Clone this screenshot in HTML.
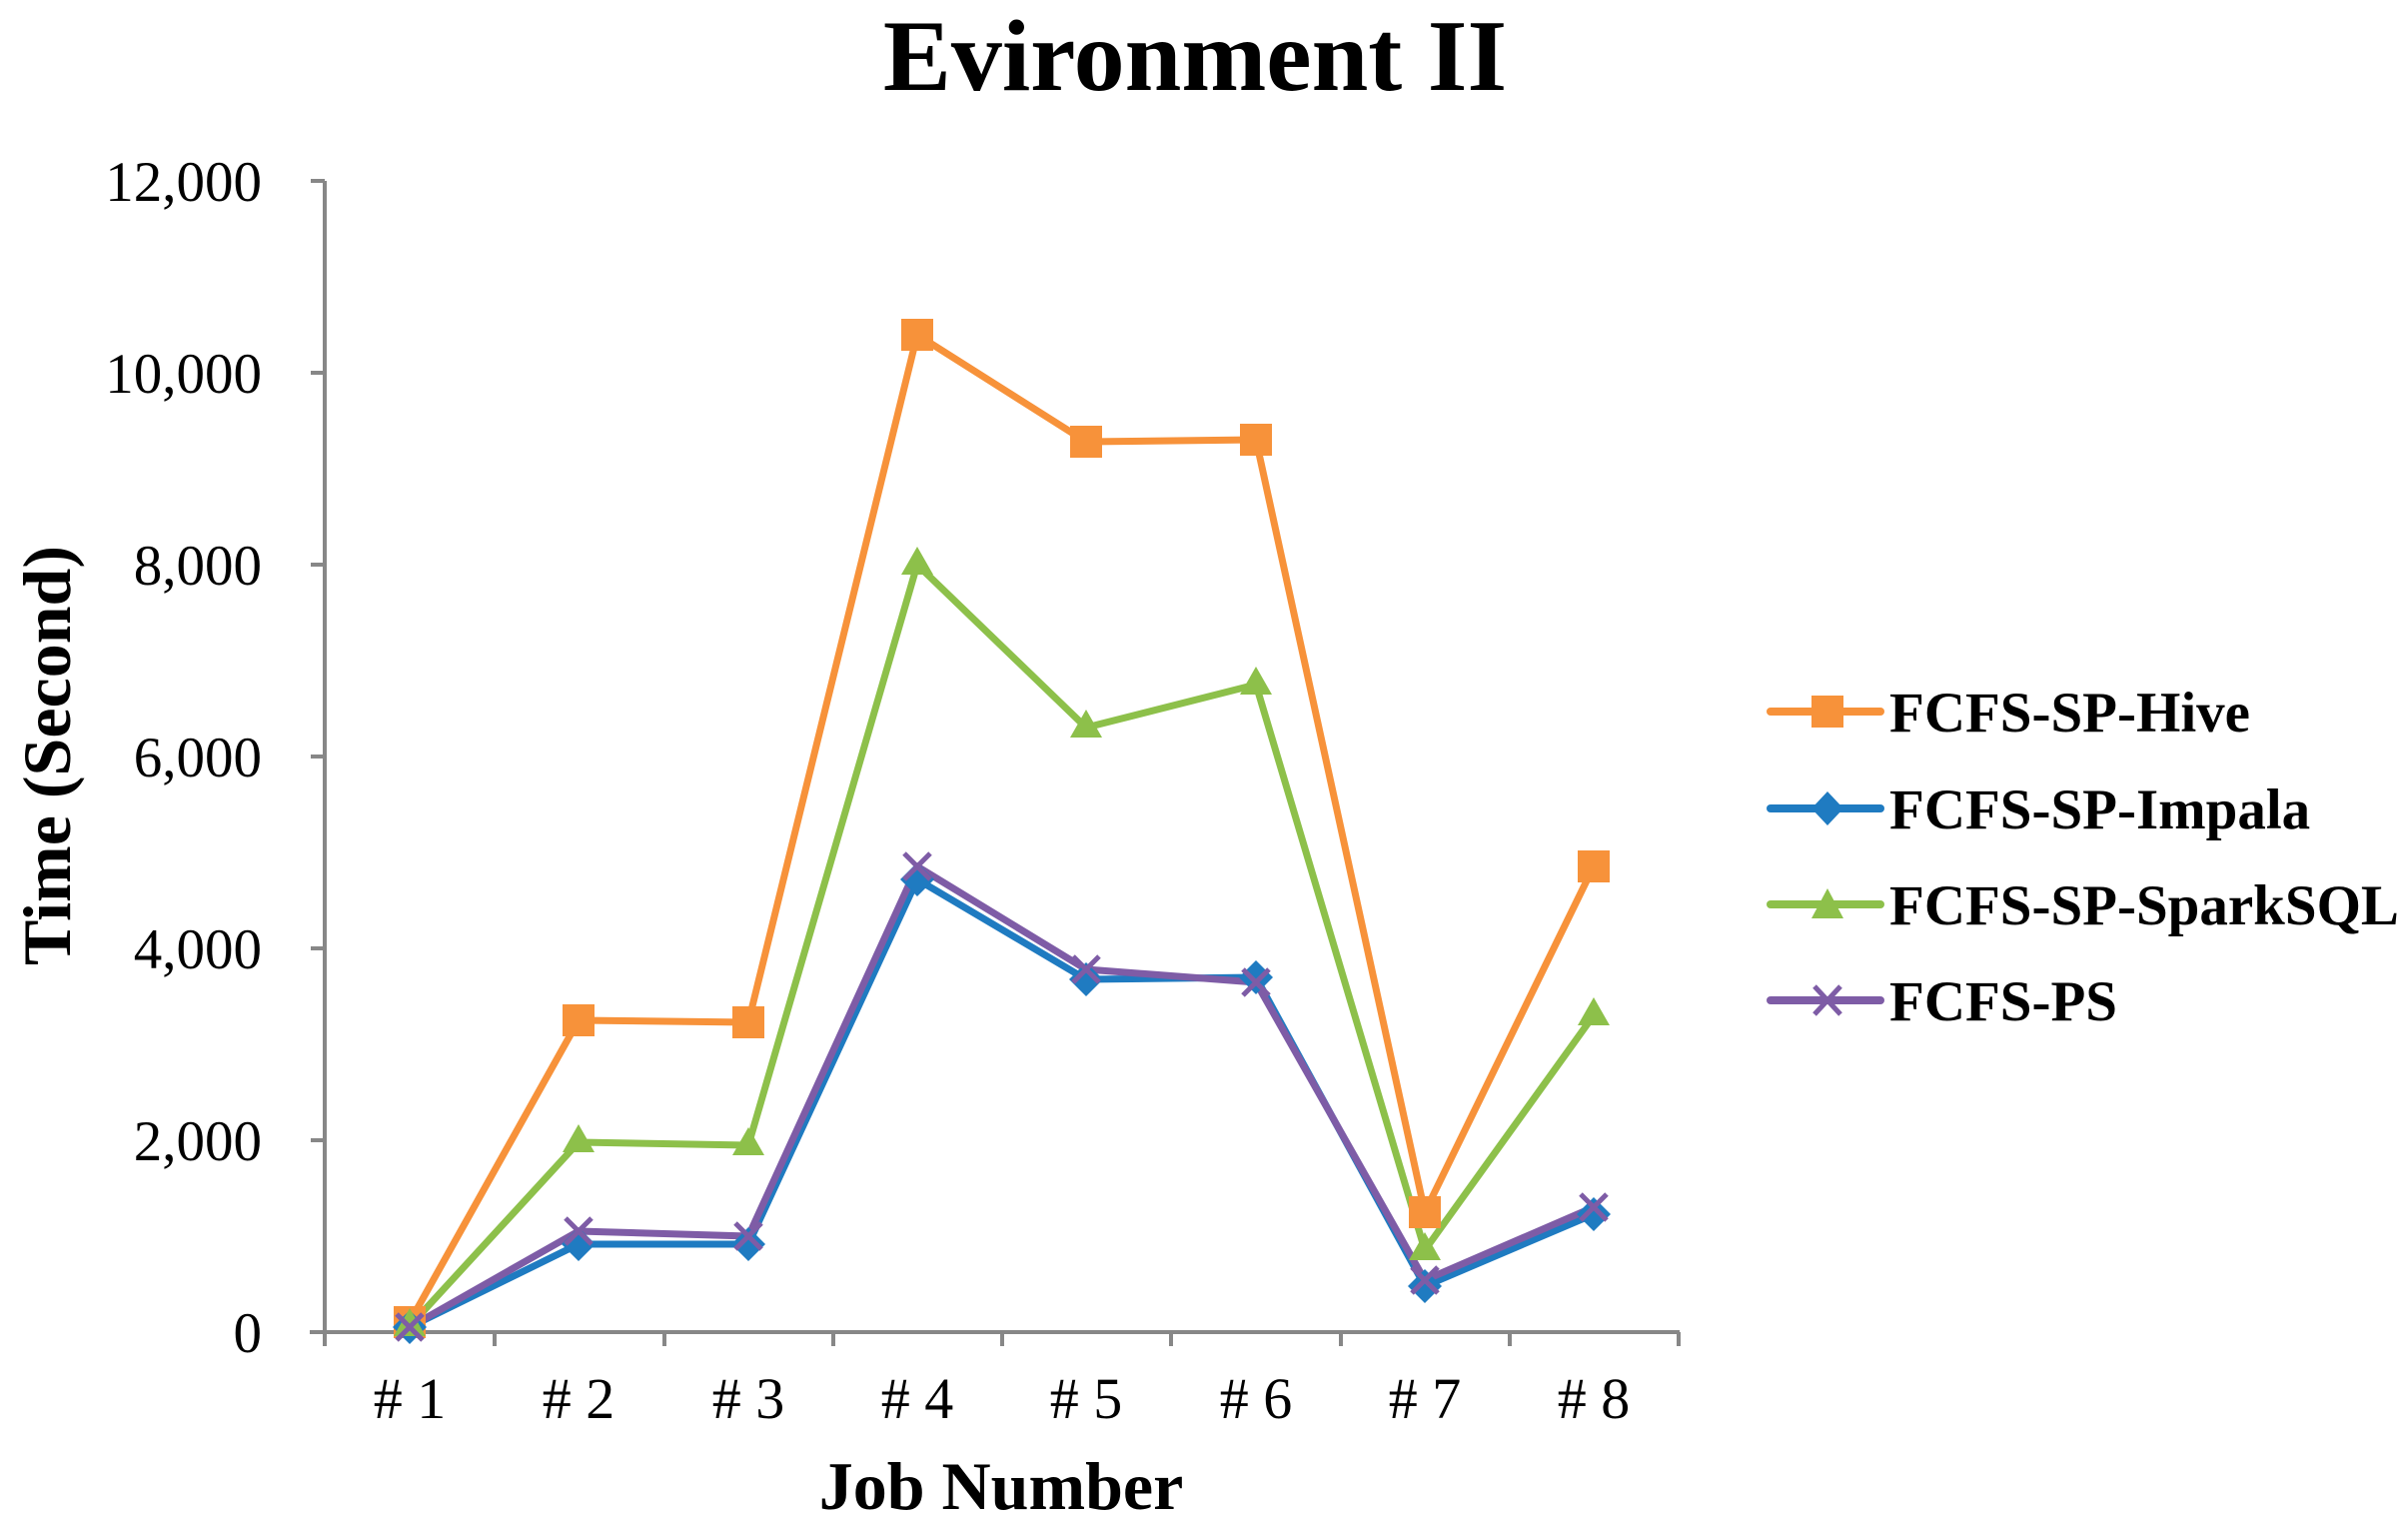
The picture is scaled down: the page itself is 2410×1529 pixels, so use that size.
<!DOCTYPE html>
<html><head><meta charset="utf-8"><style>
html,body{margin:0;padding:0;background:#fff;}
svg{display:block;font-family:"Liberation Serif",serif;}
</style></head><body>
<svg width="2410" height="1529" viewBox="0 0 2410 1529" xmlns="http://www.w3.org/2000/svg">
<text x="1196" y="90" font-size="102" font-weight="bold" text-anchor="middle">Evironment II</text>
<g stroke="#878787" stroke-width="4" fill="none">
<line x1="325" y1="181" x2="325" y2="1347"/>
<line x1="310" y1="1333" x2="1681" y2="1333"/>
<line x1="311" y1="181" x2="325" y2="181"/>
<line x1="311" y1="373" x2="325" y2="373"/>
<line x1="311" y1="565" x2="325" y2="565"/>
<line x1="311" y1="757" x2="325" y2="757"/>
<line x1="311" y1="949" x2="325" y2="949"/>
<line x1="311" y1="1141" x2="325" y2="1141"/>
<line x1="495" y1="1333" x2="495" y2="1347"/>
<line x1="665" y1="1333" x2="665" y2="1347"/>
<line x1="834" y1="1333" x2="834" y2="1347"/>
<line x1="1003" y1="1333" x2="1003" y2="1347"/>
<line x1="1172" y1="1333" x2="1172" y2="1347"/>
<line x1="1342" y1="1333" x2="1342" y2="1347"/>
<line x1="1511" y1="1333" x2="1511" y2="1347"/>
<line x1="1680" y1="1333" x2="1680" y2="1347"/>
</g>
<g font-size="57" text-anchor="end">
<text x="262" y="201">12,000</text>
<text x="262" y="393">10,000</text>
<text x="262" y="585">8,000</text>
<text x="262" y="777">6,000</text>
<text x="262" y="969">4,000</text>
<text x="262" y="1161">2,000</text>
<text x="262" y="1353">0</text>
</g>
<g font-size="58" text-anchor="middle">
<text x="410" y="1419"># 1</text>
<text x="579" y="1419"># 2</text>
<text x="749" y="1419"># 3</text>
<text x="918" y="1419"># 4</text>
<text x="1087" y="1419"># 5</text>
<text x="1257" y="1419"># 6</text>
<text x="1426" y="1419"># 7</text>
<text x="1595" y="1419"># 8</text>
</g>
<text x="1002" y="1510" font-size="68" font-weight="bold" text-anchor="middle">Job Number</text>
<text transform="translate(70,756) rotate(-90)" font-size="68" font-weight="bold" text-anchor="middle">Time (Second)</text>
<g fill="none" stroke-width="7" stroke-linejoin="round">
<polyline stroke="#F7923A" points="410,1323 579,1021 749,1023 918,335 1087,442 1257,440 1426,1213 1595,867"/>
<polyline stroke="#1F7BC1" points="410,1328 579,1245 749,1245 918,880 1087,980 1257,978 1426,1287 1595,1215"/>
<polyline stroke="#8DC04A" points="410,1327 579,1143 749,1146 918,565 1087,728 1257,685 1426,1251 1595,1016"/>
<polyline stroke="#7E5CA6" points="410,1328 579,1232 749,1237 918,867 1087,970 1257,983 1426,1281 1595,1208"/>
</g>
<g fill="#F7923A">
<rect x="394" y="1307" width="32" height="32"/><rect x="563" y="1005" width="32" height="32"/><rect x="733" y="1007" width="32" height="32"/><rect x="902" y="319" width="32" height="32"/><rect x="1071" y="426" width="32" height="32"/><rect x="1241" y="424" width="32" height="32"/><rect x="1410" y="1197" width="32" height="32"/><rect x="1579" y="851" width="32" height="32"/>
</g>
<g fill="#1F7BC1">
<path d="M410,1311l17,17l-17,17l-17,-17z M579,1228l17,17l-17,17l-17,-17z M749,1228l17,17l-17,17l-17,-17z M918,863l17,17l-17,17l-17,-17z M1087,963l17,17l-17,17l-17,-17z M1257,961l17,17l-17,17l-17,-17z M1426,1270l17,17l-17,17l-17,-17z M1595,1198l17,17l-17,17l-17,-17z"/>
</g>
<g fill="#8DC04A">
<path d="M410,1309l16,28h-32z M579,1125l16,28h-32z M749,1128l16,28h-32z M918,547l16,28h-32z M1087,710l16,28h-32z M1257,667l16,28h-32z M1426,1233l16,28h-32z M1595,998l16,28h-32z"/>
</g>
<g stroke="#7E5CA6" stroke-width="5">
<path d="M397,1315l26,26m0,-26l-26,26 M566,1219l26,26m0,-26l-26,26 M736,1224l26,26m0,-26l-26,26 M905,854l26,26m0,-26l-26,26 M1074,957l26,26m0,-26l-26,26 M1244,970l26,26m0,-26l-26,26 M1413,1268l26,26m0,-26l-26,26 M1582,1195l26,26m0,-26l-26,26"/>
</g>
<g stroke-width="8" stroke-linecap="round">
<line x1="1772" y1="712" x2="1882" y2="712" stroke="#F7923A"/>
<line x1="1772" y1="809" x2="1882" y2="809" stroke="#1F7BC1"/>
<line x1="1772" y1="905" x2="1882" y2="905" stroke="#8DC04A"/>
<line x1="1772" y1="1001" x2="1882" y2="1001" stroke="#7E5CA6"/>
</g>
<rect x="1813" y="696" width="32" height="32" fill="#F7923A"/>
<path d="M1829,792l16,17l-16,17l-16,-17z" fill="#1F7BC1"/>
<path d="M1829,889l16,30h-32z" fill="#8DC04A"/>
<path d="M1816,987l26,28m0,-28l-26,28" stroke="#7E5CA6" stroke-width="5"/>
<g font-size="57" font-weight="bold">
<text x="1891" y="732">FCFS-SP-Hive</text>
<text x="1891" y="829">FCFS-SP-Impala</text>
<text x="1891" y="925">FCFS-SP-SparkSQL</text>
<text x="1891" y="1021">FCFS-PS</text>
</g>
</svg>
</body></html>
